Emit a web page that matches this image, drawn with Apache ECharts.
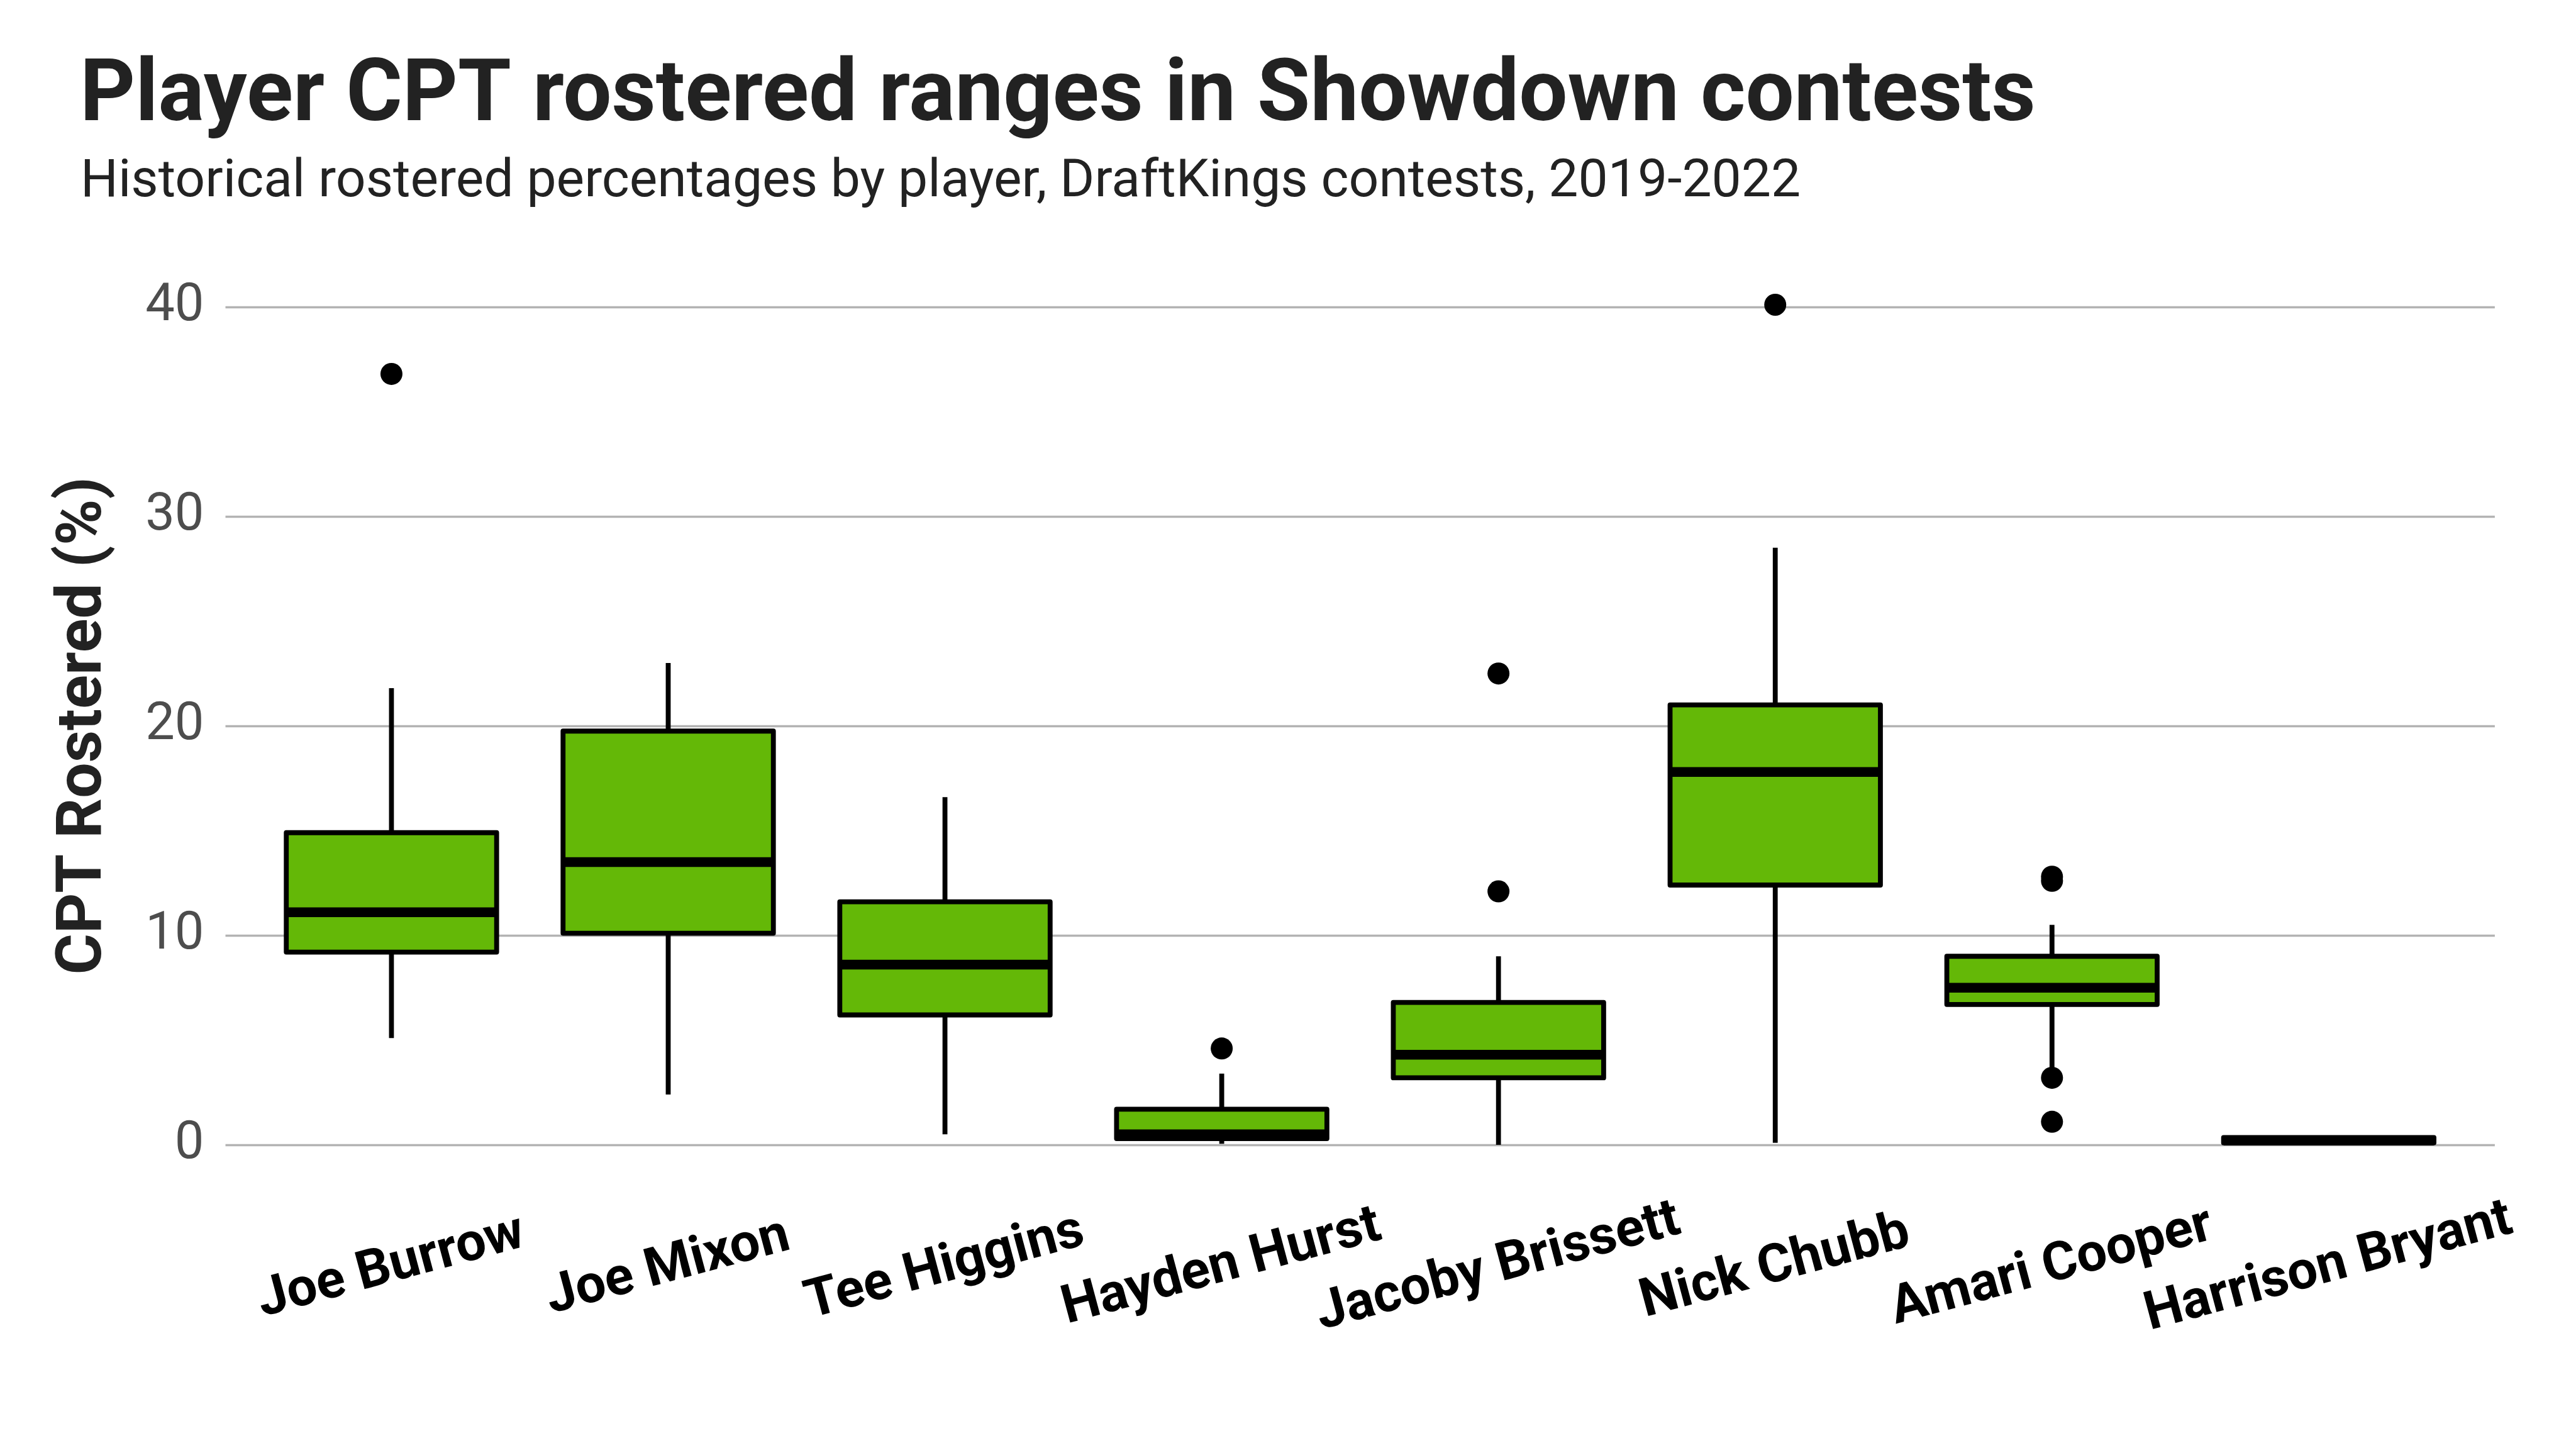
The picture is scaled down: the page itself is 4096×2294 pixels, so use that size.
<!DOCTYPE html>
<html>
<head>
<meta charset="utf-8">
<script src="https://cdn.jsdelivr.net/npm/echarts@6/dist/echarts.min.js"></script>
<style>
  html, body { margin: 0; padding: 0; background: #ffffff; }
  #chart { width: 4096px; height: 2294px; }
</style>
</head>
<body>
<div id="chart"></div>
<script>
// ---- Data ----
const categories = ['Joe Burrow', 'Joe Mixon', 'Tee Higgins', 'Hayden Hurst', 'Jacoby Brissett', 'Nick Chubb', 'Amari Cooper', 'Harrison Bryant'];
const whiskerLow  = [5.1, 2.4, 0.5, 0.05, 0.0, 0.1, 3.6, 0.05];
const boxQ1       = [9.2, 10.1, 6.2, 0.3, 3.2, 12.4, 6.7, 0.1];
const boxMedian   = [11.1, 13.5, 8.6, 0.5, 4.3, 17.8, 7.5, 0.2];
const boxQ3       = [14.9, 19.75, 11.6, 1.7, 6.8, 21.0, 9.0, 0.35];
const whiskerHigh = [21.8, 23.0, 16.6, 3.4, 9.0, 28.5, 10.5, 0.45];
const outlierPlayer = ['Joe Burrow', 'Hayden Hurst', 'Jacoby Brissett', 'Jacoby Brissett', 'Nick Chubb', 'Amari Cooper', 'Amari Cooper', 'Amari Cooper', 'Amari Cooper'];
const outlierValue  = [36.8, 4.6, 22.5, 12.1, 40.1, 12.6, 12.8, 3.2, 1.1];
const yTicks = [0, 10, 20, 30, 40];

const titleText = 'Player CPT rostered ranges in Showdown contests';
const subtitleText = 'Historical rostered percentages by player, DraftKings contests, 2019-2022';
const yAxisTitle = 'CPT Rostered (%)';

// ---- Build ----
const boxData = categories.map((c, i) => [i, whiskerLow[i], boxQ1[i], boxMedian[i], boxQ3[i], whiskerHigh[i]]);
const outlierData = outlierPlayer.map((p, i) => [p, outlierValue[i]]);

const FONT = 'Roboto, "Noto Sans", sans-serif';
const GREEN = '#64B807';
const LINE_W = 7.8;
const MEDIAN_W = 15.5;
const BOX_FRAC = 0.76;

const chart = echarts.init(document.getElementById('chart'), null, { renderer: 'canvas' });

const option = {
  backgroundColor: '#ffffff',
  animation: false,
  title: [
    {
      text: titleText,
      left: 127, top: 88, padding: 0,
      textStyle: { fontFamily: FONT, fontSize: 137, fontWeight: 'bold', color: '#222222' }
    },
    {
      text: subtitleText,
      left: 128, top: 249, padding: 0,
      textStyle: { fontFamily: FONT, fontSize: 84, fontWeight: 'normal', color: '#222222' }
    }
  ],
  grid: [
    { left: 358.5, right: 129.1, top: 487.8, bottom: 474, containLabel: false },
    { left: 402.4, right: 173.1, top: 487.8, bottom: 474, containLabel: false }
  ],
  xAxis: [
    { gridIndex: 0, type: 'value', min: 0, max: 1, show: false },
    {
      gridIndex: 1, type: 'category', data: categories, boundaryGap: true,
      axisLine: { show: false }, axisTick: { show: false }, splitLine: { show: false },
      axisLabel: {
        interval: 0, rotate: 15, align: 'center', verticalAlign: 'middle', margin: 196,
        fontFamily: FONT, fontSize: 85, fontWeight: 'bold', color: '#000000'
      }
    }
  ],
  yAxis: [
    {
      gridIndex: 0, type: 'value', min: yTicks[0], max: yTicks[yTicks.length - 1], interval: 10,
      axisLine: { show: false }, axisTick: { show: false },
      splitLine: { show: true, lineStyle: { color: '#B3B3B3', width: 3.4 } },
      axisLabel: { margin: 34, fontFamily: FONT, fontSize: 83, color: '#4D4D4D' },
      name: yAxisTitle, nameLocation: 'middle', nameRotate: 90, nameGap: 174,
      nameTextStyle: { fontFamily: FONT, fontSize: 100, fontWeight: 'bold', color: '#222222' }
    },
    {
      gridIndex: 1, type: 'value', min: yTicks[0], max: yTicks[yTicks.length - 1], interval: 10,
      show: false, splitLine: { show: false }
    }
  ],
  series: [
    {
      type: 'custom',
      xAxisIndex: 1, yAxisIndex: 1,
      clip: false,
      data: boxData,
      encode: { x: 0, y: [1, 2, 3, 4, 5] },
      renderItem: function (params, api) {
        const idx = api.value(0);
        const pLow = api.coord([idx, api.value(1)]);
        const pQ1 = api.coord([idx, api.value(2)]);
        const pMed = api.coord([idx, api.value(3)]);
        const pQ3 = api.coord([idx, api.value(4)]);
        const pHigh = api.coord([idx, api.value(5)]);
        const bw = api.size([1, 0])[0] * BOX_FRAC;
        const cx = pMed[0];
        const left = cx - bw / 2;
        const lineStyle = { stroke: '#000000', lineWidth: LINE_W };
        return {
          type: 'group',
          children: [
            { type: 'line', shape: { x1: cx, y1: pQ3[1], x2: cx, y2: pHigh[1] }, style: lineStyle },
            { type: 'line', shape: { x1: cx, y1: pQ1[1], x2: cx, y2: pLow[1] }, style: lineStyle },
            {
              type: 'rect',
              shape: { x: left, y: pQ3[1], width: bw, height: Math.max(pQ1[1] - pQ3[1], 0.5) },
              style: { fill: GREEN, stroke: '#000000', lineWidth: LINE_W, lineJoin: 'round' }
            },
            { type: 'line', shape: { x1: left, y1: pMed[1], x2: left + bw, y2: pMed[1] }, style: { stroke: '#000000', lineWidth: MEDIAN_W } }
          ]
        };
      }
    },
    {
      type: 'scatter',
      xAxisIndex: 1, yAxisIndex: 1,
      clip: false,
      symbol: 'circle', symbolSize: 35,
      itemStyle: { color: '#000000', opacity: 1 },
      data: outlierData
    }
  ]
};

chart.setOption(option);
</script>
</body>
</html>
